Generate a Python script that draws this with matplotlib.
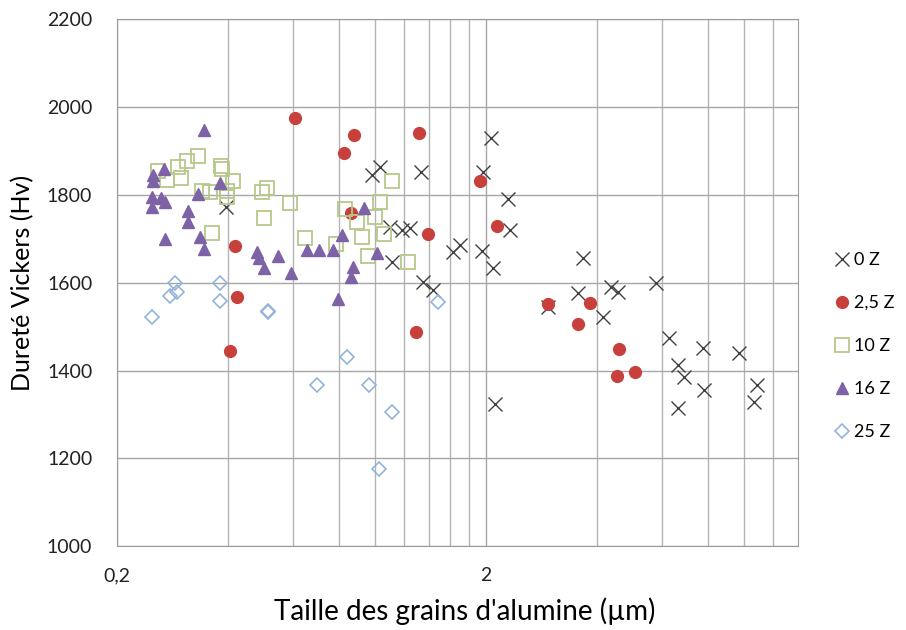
import numpy as np
import matplotlib.pyplot as plt
from matplotlib.ticker import FixedLocator, NullFormatter, FixedFormatter

plt.rcParams['font.family'] = ['Lato', 'DejaVu Sans']

# taille des grains (µm) / dureté (Hv)
x_0z = [0.395, 0.983, 1.033, 1.335, 1.100, 1.183, 1.246, 1.114, 1.351, 1.439,
        1.631, 1.704, 1.954, 2.093, 1.967, 2.068, 2.299, 2.328, 2.120, 2.952,
        3.561, 3.673, 4.350, 4.544, 5.765, 4.138, 6.250, 6.610, 6.863, 7.728,
        7.776, 6.610, 9.684, 10.83, 10.63]
y_0z = [1773, 1845, 1864, 1852, 1727, 1720, 1725, 1647, 1602, 1584,
        1670, 1686, 1672, 1634, 1852, 1930, 1791, 1720, 1324, 1545,
        1577, 1656, 1590, 1579, 1600, 1522, 1474, 1413, 1385, 1451,
        1356, 1315, 1440, 1367, 1329]

x_25z = [0.605, 0.878, 0.825, 1.318, 0.862, 1.394, 0.416, 1.930, 2.147,
         0.422, 0.404, 1.294, 2.952, 3.838, 3.561, 4.572, 4.516, 5.053]
y_25z = [1975, 1937, 1895, 1941, 1758, 1711, 1684, 1832, 1730,
         1568, 1445, 1488, 1552, 1555, 1506, 1449, 1388, 1396]

x_10z = [0.258, 0.273, 0.292, 0.298, 0.309, 0.331, 0.382, 0.385, 0.412, 0.340,
         0.357, 0.397, 0.397, 0.494, 0.510, 0.589, 0.500, 0.361, 0.647, 0.785,
         0.830, 0.895, 1.001, 1.033, 1.114, 0.923, 1.059, 0.958, 1.231]
y_10z = [1855, 1834, 1864, 1839, 1877, 1889, 1866, 1859, 1832, 1809,
         1807, 1809, 1795, 1807, 1816, 1782, 1748, 1713, 1702, 1688,
         1768, 1738, 1750, 1784, 1832, 1704, 1711, 1661, 1647]

x_16z = [0.344, 0.250, 0.250, 0.268, 0.248, 0.263, 0.269, 0.248, 0.331, 0.380,
         0.311, 0.311, 0.269, 0.335, 0.344, 0.479, 0.485, 0.500, 0.546, 0.592,
         0.655, 0.706, 0.770, 0.815, 0.873, 0.862, 0.935, 1.014, 0.795]
y_16z = [1948, 1845, 1832, 1859, 1795, 1793, 1784, 1773, 1802, 1827,
         1763, 1738, 1700, 1704, 1677, 1670, 1656, 1634, 1661, 1622,
         1675, 1675, 1675, 1709, 1636, 1613, 1770, 1668, 1563]

x_25 = [0.248, 0.278, 0.290, 0.286, 0.380, 0.380, 0.513, 0.513, 0.841, 0.697,
        0.964, 1.114, 1.027, 1.484]
y_25 = [1522, 1570, 1579, 1600, 1600, 1559, 1536, 1533, 1431, 1367,
        1367, 1306, 1176, 1556]

fig = plt.figure(figsize=(9.06, 6.3), dpi=100)
ax = fig.add_axes([0.1295, 0.1329, 0.751, 0.8365])

ax.plot(x_0z, y_0z, 'x', ms=10.5, mew=1.0, color='#404040', label='0 Z')
ax.plot(x_25z, y_25z, 'o', ms=8.5, color='#C8403C', label='2,5 Z')
ax.plot(x_10z, y_10z, 's', ms=9.5, mfc='none', mec='#B5C98A', mew=1.3, label='10 Z')
ax.plot(x_16z, y_16z, '^', ms=9, color='#7E62A6', label='16 Z')
ax.plot(x_25, y_25, 'D', ms=7.5, mfc='none', mec='#93B3D8', mew=1.2, label='25 Z')

ax.set_xscale('log')
ax.set_xlim(0.2, 14)
ax.set_ylim(1000, 2200)
ax.set_yticks(np.arange(1000, 2201, 200))

ax.xaxis.set_major_locator(FixedLocator([0.2, 2]))
ax.xaxis.set_major_formatter(FixedFormatter(['0,2', '2']))
ax.xaxis.set_minor_locator(FixedLocator([0.4, 0.6, 0.8, 1.0, 1.2, 1.4, 1.6, 1.8,
                                         4, 6, 8, 10, 12]))
ax.xaxis.set_minor_formatter(NullFormatter())

ax.grid(True, which='major', color='#A6A6A6', lw=1)
ax.grid(True, which='minor', axis='x', color='#B4B4B4', lw=1)
ax.set_axisbelow(True)
for s in ax.spines.values():
    s.set_color('#9A9A9A')
ax.tick_params(which='both', length=0, labelsize=14, colors='#222222')
ax.tick_params(axis='y', pad=18)
ax.tick_params(axis='x', pad=15)

ax.set_xlabel("Taille des grains d'alumine (µm)", fontsize=20)
ax.set_ylabel('Dureté Vickers (Hv)', fontsize=18)
ax.xaxis.set_label_coords(0.51, -0.097)
ax.yaxis.set_label_coords(-0.122, 0.5)

ax.legend(loc='center left', bbox_to_anchor=(1.025, 0.38), frameon=False,
          fontsize=13, handletextpad=0.1, labelspacing=1.5, handlelength=1.2)

fig.savefig('out.png', dpi=100)
